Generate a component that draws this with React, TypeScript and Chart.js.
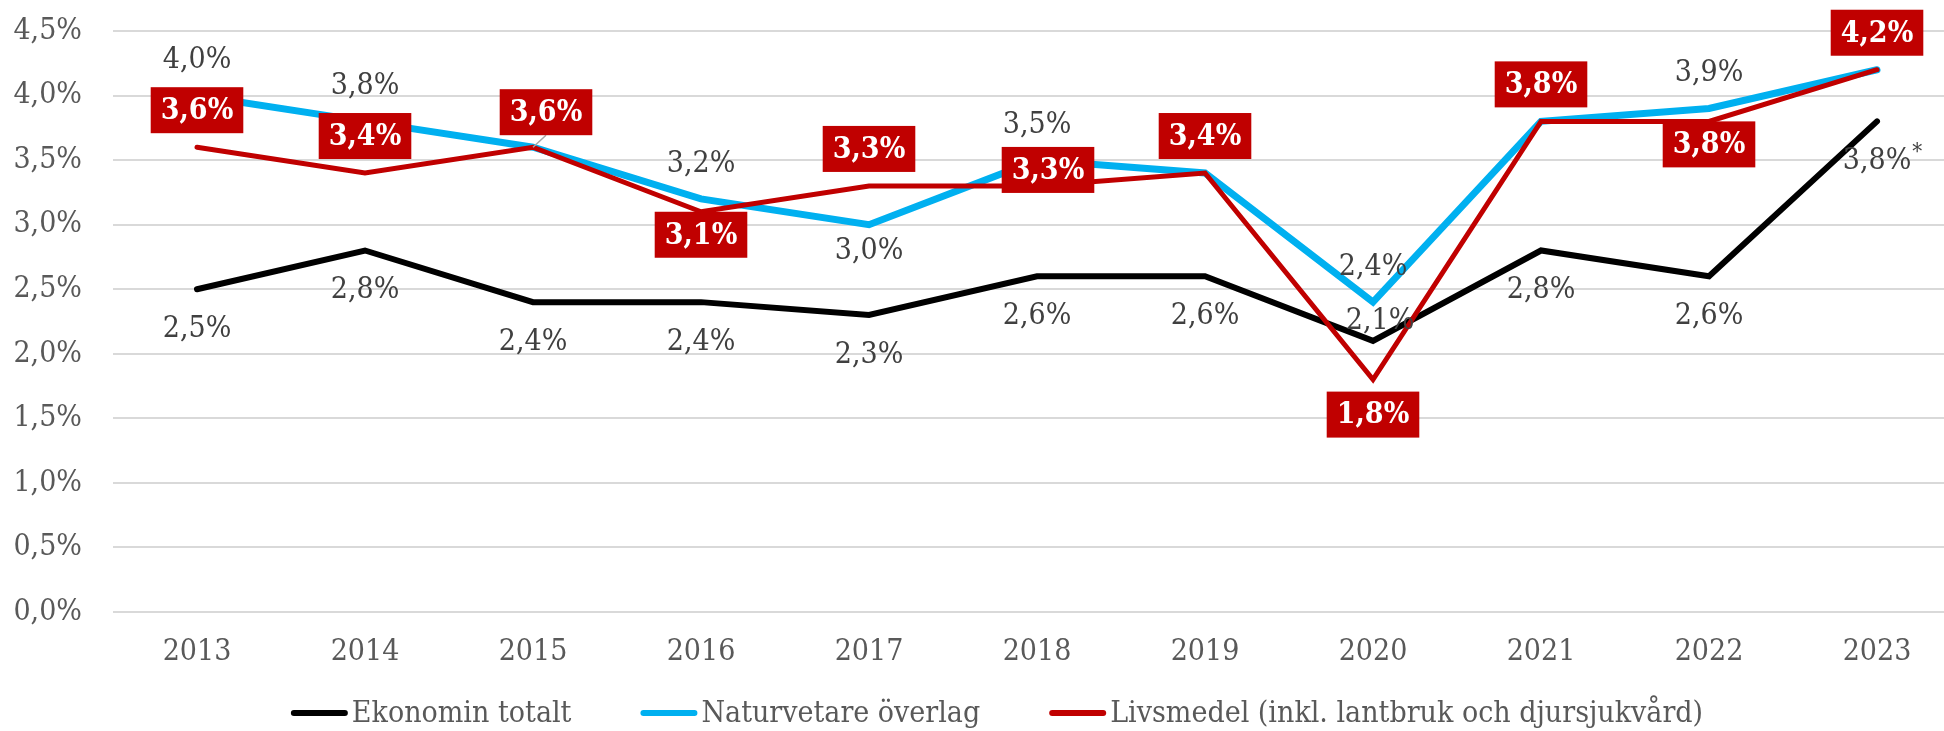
import React, { useEffect, useRef } from 'react';
import { Chart, registerables } from 'chart.js';

Chart.register(...registerables);

const years = ['2013', '2014', '2015', '2016', '2017', '2018', '2019', '2020', '2021', '2022', '2023'];
const ekonomin = [2.5, 2.8, 2.4, 2.4, 2.3, 2.6, 2.6, 2.1, 2.8, 2.6, 3.8];
const naturvetare = [4.0, 3.8, 3.6, 3.2, 3.0, 3.5, 3.4, 2.4, 3.8, 3.9, 4.2];
const livsmedel = [3.6, 3.4, 3.6, 3.1, 3.3, 3.3, 3.4, 1.8, 3.8, 3.8, 4.2];
const ekonominNotes = ['', '', '', '', '', '', '', '', '', '', '*'];

const ekonominLabelPos = ['below', 'below', 'below', 'below', 'below', 'below', 'below', 'aboveTight', 'below', 'below', 'below'];
const naturLabelPos = ['above', 'above', 'none', 'above', 'belowNear', 'above', 'none', 'above', 'none', 'above', 'none'];
const livsLabelPos = ['above', 'above', 'aboveShift', 'below', 'above', 'mid', 'above', 'belowFar', 'above', 'below', 'above'];

const FONT = '"DejaVu Serif Condensed", "Liberation Serif", serif';
const fmt = (v: number) => v.toFixed(1).replace('.', ',') + '%';

const plainPlacement: Record<string, { dx: number; dy: number } | null> = {
  above: { dx: 0, dy: -35 },
  below: { dx: 0, dy: 40 },
  belowNear: { dx: 0, dy: 27 },
  aboveTight: { dx: 7, dy: -20 },
  none: null,
};
const boxPlacement: Record<string, { dx: number; dy: number; leader?: boolean }> = {
  above: { dx: 0, dy: -37 },
  aboveShift: { dx: 13, dy: -35, leader: true },
  below: { dx: 0, dy: 23 },
  belowFar: { dx: 0, dy: 35 },
  mid: { dx: 11, dy: -16 },
};

const valueLabels = {
  id: 'valueLabels',
  afterDatasetsDraw(chart: any) {
    const ctx = chart.ctx as CanvasRenderingContext2D;
    ctx.save();
    ctx.textAlign = 'center';
    ctx.textBaseline = 'middle';
    chart.data.datasets.forEach((ds: any, di: number) => {
      if (ds.labelStyle !== 'plain') return;
      const meta = chart.getDatasetMeta(di);
      meta.data.forEach((pt: any, i: number) => {
        const pl = plainPlacement[ds.labelPos[i]];
        if (!pl) return;
        const text = fmt(ds.data[i]);
        const note = ds.labelNotes ? ds.labelNotes[i] : '';
        ctx.font = `30px ${FONT}`;
        ctx.fillStyle = '#404040';
        const x = pt.x + pl.dx;
        const y = pt.y + pl.dy;
        ctx.fillText(text, x, y);
        if (note) {
          const w = ctx.measureText(text).width;
          ctx.font = `22px ${FONT}`;
          ctx.textAlign = 'left';
          ctx.fillText(note, x + w / 2 + 1, y - 8);
          ctx.textAlign = 'center';
        }
      });
    });
    chart.data.datasets.forEach((ds: any, di: number) => {
      if (ds.labelStyle !== 'box') return;
      const meta = chart.getDatasetMeta(di);
      meta.data.forEach((pt: any, i: number) => {
        const pl = boxPlacement[ds.labelPos[i]];
        if (!pl) return;
        const text = fmt(ds.data[i]);
        ctx.font = `bold 30px ${FONT}`;
        const w = ctx.measureText(text).width + 20;
        const h = 46;
        const cx = pt.x + pl.dx;
        const cy = pt.y + pl.dy;
        if (pl.leader) {
          ctx.strokeStyle = '#A6A6A6';
          ctx.lineWidth = 1.5;
          ctx.beginPath();
          ctx.moveTo(pt.x, pt.y);
          ctx.lineTo(cx, cy + h / 2);
          ctx.stroke();
        }
        ctx.fillStyle = ds.borderColor;
        ctx.fillRect(cx - w / 2, cy - h / 2, w, h);
        ctx.fillStyle = '#FFFFFF';
        ctx.fillText(text, cx, cy + 1);
      });
    });
    ctx.restore();
  },
};

// Legend drawn from the chart's own datasets: short line, small gap, label.
const lineLegend = {
  id: 'lineLegend',
  afterDraw(chart: any, _args: any, opts: any) {
    const ctx = chart.ctx as CanvasRenderingContext2D;
    ctx.save();
    ctx.font = `${opts.fontSize}px ${FONT}`;
    const items = chart.data.datasets.map((ds: any) => ({
      text: ds.label,
      color: ds.borderColor,
      w: ctx.measureText(ds.label).width,
    }));
    const total =
      items.reduce((s: number, it: any) => s + opts.lineLength + opts.gap + it.w, 0) +
      opts.itemGap * (items.length - 1);
    let x = (chart.width - total) / 2;
    const y = chart.height - opts.bottomOffset;
    ctx.textBaseline = 'middle';
    ctx.textAlign = 'left';
    items.forEach((it: any) => {
      ctx.strokeStyle = it.color;
      ctx.lineWidth = opts.lineWidth;
      ctx.lineCap = 'round';
      ctx.beginPath();
      ctx.moveTo(x + opts.lineWidth / 2, y);
      ctx.lineTo(x + opts.lineLength - opts.lineWidth / 2, y);
      ctx.stroke();
      ctx.fillStyle = opts.color;
      ctx.fillText(it.text, x + opts.lineLength + opts.gap, y + 1);
      x += opts.lineLength + opts.gap + it.w + opts.itemGap;
    });
    ctx.restore();
  },
};

export default function App() {
  const ref = useRef<HTMLCanvasElement>(null);
  useEffect(() => {
    document.body.style.margin = '0';
    document.body.style.overflow = 'hidden';
    if (!ref.current) return;
    const chart = new Chart(ref.current, {
      type: 'line',
      data: {
        labels: years,
        datasets: [
          {
            label: 'Ekonomin totalt',
            data: ekonomin,
            borderColor: '#000000',
            backgroundColor: '#000000',
            borderWidth: 6,
            borderCapStyle: 'round',
            pointRadius: 0,
            order: 2,
            labelStyle: 'plain',
            labelPos: ekonominLabelPos,
            labelNotes: ekonominNotes,
          } as any,
          {
            label: 'Naturvetare överlag',
            data: naturvetare,
            borderColor: '#00B0F0',
            backgroundColor: '#00B0F0',
            borderWidth: 7,
            borderCapStyle: 'round',
            pointRadius: 0,
            order: 3,
            labelStyle: 'plain',
            labelPos: naturLabelPos,
          } as any,
          {
            label: 'Livsmedel (inkl. lantbruk och djursjukvård)',
            data: livsmedel,
            borderColor: '#C00000',
            backgroundColor: '#C00000',
            borderWidth: 5,
            borderCapStyle: 'round',
            pointRadius: 0,
            order: 1,
            labelStyle: 'box',
            labelPos: livsLabelPos,
          } as any,
        ],
      },
      options: {
        responsive: true,
        maintainAspectRatio: false,
        animation: false,
        devicePixelRatio: 1,
        layout: { padding: { top: 31, right: 33, left: 0, bottom: 61 } },
        plugins: {
          tooltip: { enabled: false },
          legend: { display: false },
          lineLegend: {
            fontSize: 30,
            lineLength: 57,
            lineWidth: 6,
            gap: 4,
            itemGap: 69,
            color: '#595959',
            bottomOffset: 18,
          },
        },
        scales: {
          x: {
            offset: true,
            afterFit: (s: any) => {
              s.height = 58;
            },
            grid: { display: false },
            border: { display: false },
            ticks: { color: '#595959', font: { family: FONT, size: 30 }, padding: 14 },
          },
          y: {
            min: 0,
            max: 4.5,
            afterFit: (s: any) => {
              s.width = 113;
              s.paddingTop = 0;
              s.paddingBottom = 0;
            },
            grid: { color: '#D9D9D9', lineWidth: 2, drawTicks: false },
            border: { display: false },
            ticks: {
              stepSize: 0.5,
              padding: 31,
              color: '#595959',
              font: { family: FONT, size: 30 },
              callback: (v: any) => fmt(Number(v)),
            },
          },
        },
      } as any,
      plugins: [valueLabels, lineLegend],
    });
    return () => chart.destroy();
  }, []);
  return (
    <div style={{ position: 'relative', width: '1994px', height: '731px' }}>
      <canvas ref={ref} />
    </div>
  );
}
